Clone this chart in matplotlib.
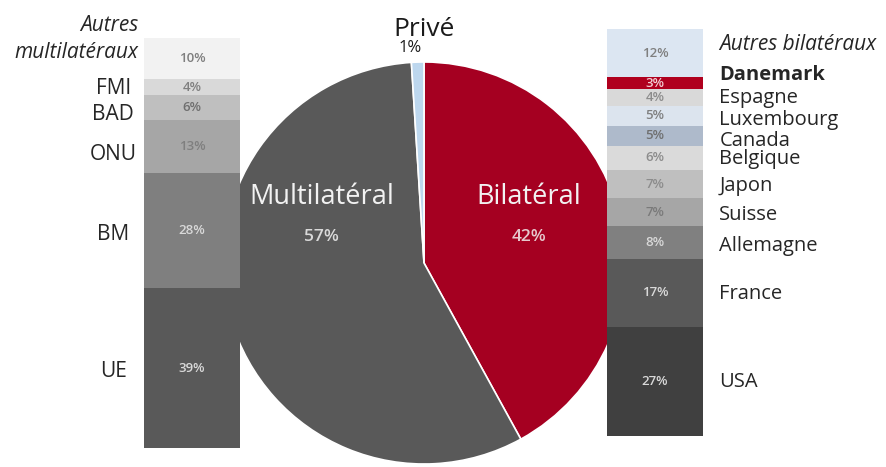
import matplotlib.pyplot as plt
import numpy as np

plt.rcParams['font.family'] = ['Open Sans', 'DejaVu Sans']

# pie: main split of the aid
pie_labels = ['Bilatéral', 'Multilatéral', 'Privé']
pie_values = [42, 57, 1]
pie_colors = ['#A50021', '#595959', '#BDD7EE']

# left bar: multilateral donors (top to bottom)
multi_labels = ['Autres\nmultilatéraux', 'FMI', 'BAD', 'ONU', 'BM', 'UE']
multi_values = [10, 4, 6, 13, 28, 39]
multi_colors = ['#F2F2F2', '#D9D9D9', '#BFBFBF', '#A6A6A6', '#7F7F7F', '#595959']
multi_txt = ['#7F7F7F', '#7F7F7F', '#6F6F6F', '#7F7F7F', '#D9D9D9', '#D9D9D9']

# right bar: bilateral donors (top to bottom)
bi_labels = ['Autres bilatéraux', 'Danemark', 'Espagne', 'Luxembourg', 'Canada',
             'Belgique', 'Japon', 'Suisse', 'Allemagne', 'France', 'USA']
bi_values = [12, 3, 4, 5, 5, 6, 7, 7, 8, 17, 27]
bi_colors = ['#DCE6F2', '#B0001E', '#D9D9D9', '#DCE4EE', '#AEBACB', '#DADADA',
             '#BFBFBF', '#A6A6A6', '#808080', '#595959', '#404040']
bi_txt = ['#7F7F7F', '#F2D0D5', '#8C8C8C', '#7F7F7F', '#6F6F6F', '#8C8C8C',
          '#8C8C8C', '#7A7A7A', '#D9D9D9', '#D9D9D9', '#D9D9D9']

W, H = 886, 467
fig = plt.figure(figsize=(W / 100, H / 100), dpi=100)


def px_axes(x0, y0, x1, y1):
    # pixel box (top-left origin) -> figure axes
    return fig.add_axes([x0 / W, 1 - y1 / H, (x1 - x0) / W, (y1 - y0) / H])


# ---- pie ----
axp = px_axes(223, 62, 625, 464)
axp.pie(pie_values, colors=pie_colors, startangle=90, counterclock=False,
        wedgeprops=dict(edgecolor='white', linewidth=1.2))
axp.set_xlim(-1, 1)
axp.set_ylim(-1, 1)
axp.text(-0.51, 0.33, pie_labels[1], color='#F2F2F2', fontsize=19.5, ha='center', va='center')
axp.text(-0.51, 0.13, f'{pie_values[1]}%', color='#D9D9D9', fontsize=12.5,
         fontweight='semibold', ha='center', va='center')
axp.text(0.52, 0.33, pie_labels[0], color='#F2F2F2', fontsize=19.5, ha='center', va='center')
axp.text(0.52, 0.13, f'{pie_values[0]}%', color='#E6C8CD', fontsize=12.5,
         fontweight='semibold', ha='center', va='center')
fig.text(424 / W, 1 - 29 / H, pie_labels[2], fontsize=19, color='#1A1A1A', ha='center', va='center')
fig.text(410 / W, 1 - 48 / H, f'{pie_values[2]}%', fontsize=12, color='#1A1A1A', ha='center', va='center')


def stacked_bar(ax, values, colors, txt_colors):
    vals = np.array(values[::-1], dtype=float)
    bottoms = np.concatenate([[0], np.cumsum(vals)[:-1]])
    ax.bar(0, vals, bottom=bottoms, width=1, color=colors[::-1], linewidth=0)
    for v, b, c in zip(vals, bottoms, txt_colors[::-1]):
        ax.text(0, b + v / 2, f'{int(v)}%', ha='center', va='center', fontsize=9.5,
                fontweight='semibold', color=c)
    ax.set_xlim(-0.5, 0.5)
    ax.set_ylim(0, vals.sum())
    ax.axis('off')
    centers = bottoms + vals / 2
    return centers[::-1]


# ---- left bar ----
axl = px_axes(144, 38, 240, 448)
lc = stacked_bar(axl, multi_values, multi_colors, multi_txt)
left_nudge = [4.8, -0.3, -1.6, -1.9, -0.9, -0.9]  # label offsets in data units
for i, (lab, c) in enumerate(zip(multi_labels, lc)):
    if i == 0:
        axl.text(-0.06, c + left_nudge[i], lab, transform=axl.get_yaxis_transform(),
                 ha='right', va='center', fontsize=15, style='italic', color='#262626',
                 linespacing=1.4)
    else:
        axl.text(-0.32, c + left_nudge[i], lab, transform=axl.get_yaxis_transform(),
                 ha='center', va='center', fontsize=15, color='#262626')

# ---- right bar ----
axr = px_axes(607, 29, 703, 436)
rc = stacked_bar(axr, bi_values, bi_colors, bi_txt)
right_nudge = [2.2, 2.0, 0, -1.0, -1.3, -0.3, -0.5, -0.7, -0.8, -0.2, 0]
for i, (lab, c) in enumerate(zip(bi_labels, rc)):
    axr.text(1.17, c + right_nudge[i], lab, transform=axr.get_yaxis_transform(),
             ha='left', va='center', fontsize=15 if i == 0 else 14.5, color='#262626',
             style='italic' if i == 0 else 'normal',
             fontweight='bold' if i == 1 else 'normal')

fig.savefig('out.png', dpi=100)
